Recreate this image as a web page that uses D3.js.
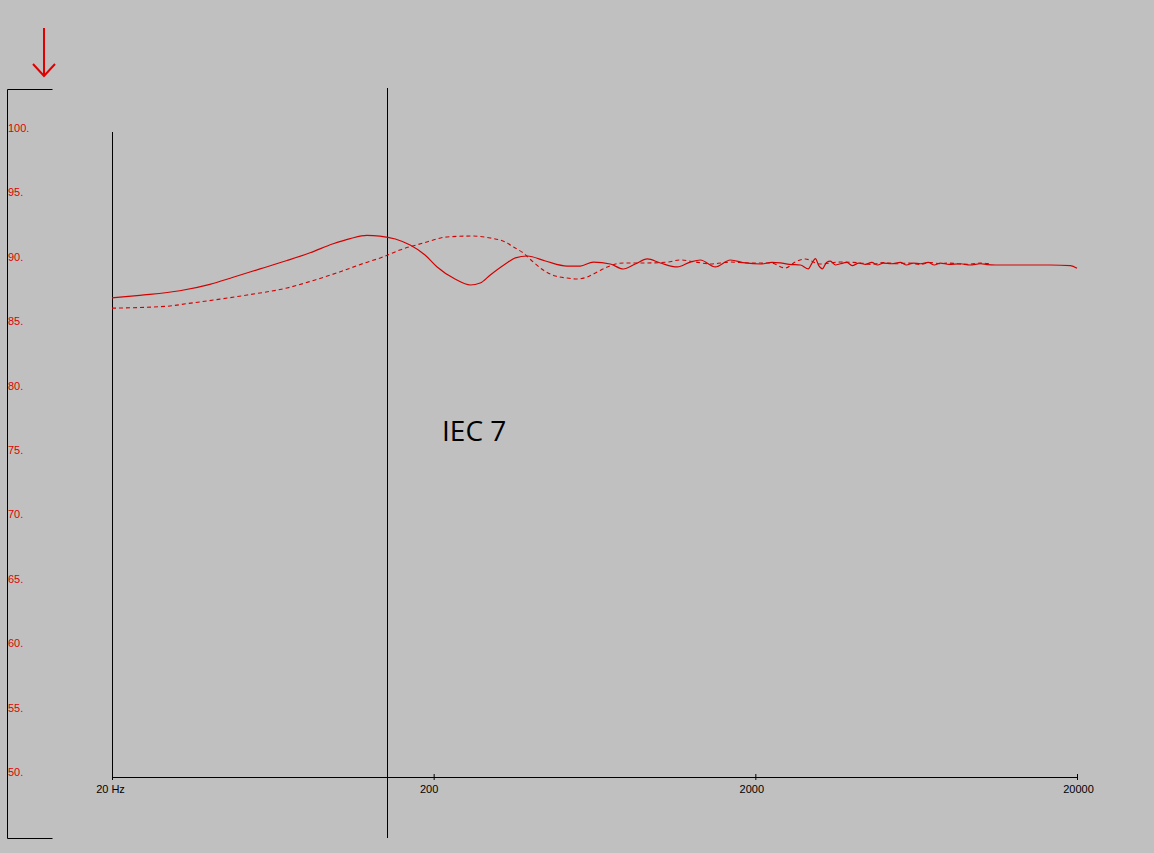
<!DOCTYPE html>
<html>
<head>
<meta charset="utf-8">
<script src="https://cdn.jsdelivr.net/npm/d3@7"></script>
<style>
  html, body { margin: 0; padding: 0; background: #c0c0c0; }
  svg { display: block; }
</style>
</head>
<body>
<script>
// ---- data ----
const xTickValues = [20, 200, 2000, 20000];
const xTickLabels = ["20 Hz", "200", "2000", "20000"];
const yTickValues = [100, 95, 90, 85, 80, 75, 70, 65, 60, 55, 50];
const yTickLabels = ["100.", "95.", "90.", "85.", "80.", "75.", "70.", "65.", "60.", "55.", "50."];

const solidFreq = [20, 24.4, 32.5, 40.3, 47.6, 57.7, 70, 82.6, 97.4, 110, 124, 136, 152, 169, 188, 205, 233, 260, 279, 300, 334, 359, 391, 445, 520, 571, 627, 708, 777, 847, 923, 1013, 1144, 1256, 1349, 1502, 1672, 1862, 2074, 2250, 2392, 2550, 2761, 2924, 3000, 3074, 3150, 3232, 3330, 3423, 3550, 3676, 3850, 4000, 4200, 4400, 4600, 4800, 5000, 5300, 5650, 5900, 6200, 6522, 6900, 7200, 7524, 8000, 8682, 9300, 10020, 10500, 11156, 13346, 16548, 19090, 20000];
const solidDb = [87.2, 87.4, 87.75, 88.25, 88.8, 89.45, 90.1, 90.7, 91.4, 91.8, 92.05, 92.0, 91.77, 91.3, 90.53, 89.6, 88.66, 88.2, 88.35, 88.98, 89.83, 90.3, 90.45, 90.06, 89.67, 89.67, 89.98, 89.83, 89.44, 89.83, 90.22, 89.91, 89.6, 89.98, 90.14, 89.6, 90.14, 89.91, 89.83, 89.95, 89.91, 89.8, 89.75, 89.45, 89.9, 90.25, 89.7, 89.45, 89.95, 90.05, 89.75, 89.85, 89.95, 89.7, 89.9, 89.8, 89.95, 89.75, 89.9, 89.85, 89.95, 89.75, 89.9, 89.85, 89.95, 89.75, 89.9, 89.8, 89.85, 89.75, 89.85, 89.78, 89.75, 89.75, 89.75, 89.7, 89.5];

const dashedFreq = [20, 29.7, 34.2, 43.3, 52.6, 70, 85.6, 102, 122, 139, 157, 186, 220, 265, 300, 334, 354, 380, 408, 438, 478, 520, 559, 600, 645, 693, 777, 923, 1065, 1169, 1302, 1449, 1672, 1930, 2228, 2480, 2663, 2861, 3170, 3676, 4243, 4600, 5000, 5500, 6000, 6500, 7000, 7500, 8000, 9000, 10000, 10700];
const dashedDb = [86.4, 86.55, 86.75, 87.1, 87.42, 87.97, 88.59, 89.21, 89.91, 90.37, 90.92, 91.46, 91.93, 92.0, 91.85, 91.54, 91.15, 90.68, 89.98, 89.36, 88.9, 88.74, 88.66, 88.82, 89.21, 89.6, 89.91, 89.91, 89.98, 90.14, 89.98, 89.83, 89.98, 89.91, 89.91, 89.52, 89.98, 90.22, 89.83, 89.98, 89.91, 89.8, 89.95, 89.85, 89.9, 89.8, 89.95, 89.85, 89.9, 89.8, 89.9, 89.85];

const annotation = "IEC 7";

// ---- drawing ----
const W = 1154, H = 853;
const svg = d3.select("body").append("svg").attr("width", W).attr("height", H);
svg.append("rect").attr("width", W).attr("height", H).attr("fill", "#c0c0c0");

const x = d3.scaleLog().domain([20, 20000]).range([112, 1077]);
const y = d3.scaleLinear().domain([50, 100]).range([777, 133]);

const red = "#d40000";

// left bracket
svg.append("path")
  .attr("d", "M52.5,89.5 H7.5 V838.5 H52.5")
  .attr("fill", "none").attr("stroke", "#000").attr("stroke-width", 1);

// red arrow
svg.append("path")
  .attr("d", "M44,28 V76 M33,64 L44,76 L55,64")
  .attr("fill", "none").attr("stroke", "#e00000").attr("stroke-width", 2);

// y labels
svg.append("g").selectAll("text").data(yTickValues).join("text")
  .attr("x", 8).attr("y", d => y(d) - 1)
  .attr("fill", "#e00000")
  .attr("font-family", "Liberation Sans, Arial, sans-serif")
  .attr("font-size", 11)
  .text((d, i) => yTickLabels[i]);

// left vertical axis line
svg.append("line")
  .attr("x1", x(20) + 0.5).attr("x2", x(20) + 0.5)
  .attr("y1", 132).attr("y2", y(50))
  .attr("stroke", "#000");

// x axis
const xAxis = d3.axisBottom(x)
  .tickValues(xTickValues)
  .tickFormat((d, i) => xTickLabels[i])
  .tickSizeInner(4).tickSizeOuter(0).tickPadding(4);
const gx = svg.append("g").attr("transform", `translate(0,${y(50)})`).call(xAxis);
gx.select(".domain").attr("stroke", "#000");
gx.selectAll(".tick line").attr("stroke", "#000").attr("y1", -3).attr("y2", 3);
gx.selectAll(".tick text")
  .attr("fill", "#000")
  .attr("font-family", "Liberation Sans, Arial, sans-serif")
  .attr("font-size", 11)
  .attr("dx", (d, i) => [-2, -5, -4, 1][i]);

// middle vertical cursor line
svg.append("line")
  .attr("x1", 387.5).attr("x2", 387.5)
  .attr("y1", 88).attr("y2", 838)
  .attr("stroke", "#000");

// curves
const line = d3.line()
  .x(d => x(d[0])).y(d => y(d[1]))
  .curve(d3.curveMonotoneX);

svg.append("path")
  .datum(dashedFreq.map((f, i) => [f, dashedDb[i]]))
  .attr("d", line)
  .attr("fill", "none").attr("stroke", red).attr("stroke-width", 1.1)
  .attr("stroke-dasharray", "4,3");

svg.append("path")
  .datum(solidFreq.map((f, i) => [f, solidDb[i]]))
  .attr("d", line)
  .attr("fill", "none").attr("stroke", red).attr("stroke-width", 1.2);

// annotation
svg.append("text")
  .attr("x", 442).attr("y", 441)
  .attr("font-family", "Open Sans, sans-serif")
  .attr("font-size", 28)
  .attr("fill", "#000")
  .text(annotation);
</script>
</body>
</html>
